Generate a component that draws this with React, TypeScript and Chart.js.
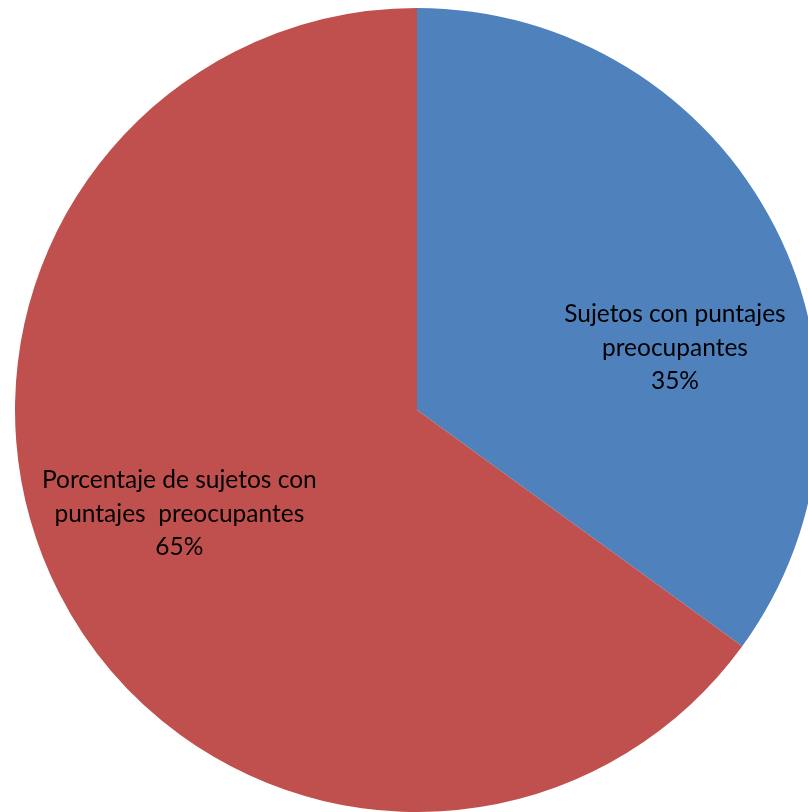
import React, { useEffect, useRef } from "react";
import { Chart, registerables } from "chart.js";

Chart.register(...registerables);

const categories = ["Sujetos con puntajes preocupantes", "Porcentaje de sujetos con puntajes  preocupantes"];
const labelLines = [
  ["Sujetos con puntajes", "preocupantes"],
  ["Porcentaje de sujetos con", "puntajes  preocupantes"],
];
const values = [35, 65];
const colors = ["#4F81BD", "#C0504D"];

const labelPlugin = {
  id: "sliceLabels",
  afterDatasetsDraw(chart: any) {
    const ctx = chart.ctx;
    const meta = chart.getDatasetMeta(0);
    const total = values.reduce((a, b) => a + b, 0);
    const anchors = [
      { dAngle: 0.235, frac: 0.66 },
      { dAngle: 0.06, frac: 0.645 },
    ];
    ctx.save();
    ctx.font = '24.5px Lato, "Open Sans", sans-serif';
    ctx.fillStyle = "#000";
    ctx.textAlign = "center";
    ctx.textBaseline = "middle";
    meta.data.forEach((arc: any, i: number) => {
      const p = arc.getProps(["x", "y", "startAngle", "endAngle", "outerRadius"], true);
      const mid = (p.startAngle + p.endAngle) / 2 + anchors[i].dAngle;
      const r = p.outerRadius * anchors[i].frac;
      const cx = p.x + Math.cos(mid) * r;
      const cy = p.y + Math.sin(mid) * r;
      const lines = [...labelLines[i], Math.round((values[i] / total) * 100) + "%"];
      const lh = 33.5;
      lines.forEach((t, k) => {
        ctx.fillText(t, cx, cy + (k - (lines.length - 1) / 2) * lh);
      });
    });
    ctx.restore();
  },
};

export default function App() {
  const ref = useRef<HTMLCanvasElement | null>(null);
  useEffect(() => {
    if (!ref.current) return;
    const chart = new Chart(ref.current, {
      type: "pie",
      data: {
        labels: categories,
        datasets: [
          {
            data: values,
            backgroundColor: colors,
            borderWidth: 0,
          },
        ],
      },
      options: {
        animation: false,
        responsive: false,
        layout: { padding: 8 },
        plugins: {
          legend: { display: false },
          tooltip: { enabled: false },
        },
      },
      plugins: [labelPlugin],
    });
    return () => chart.destroy();
  }, []);
  return (
    <div
      style={{
        position: "fixed",
        left: 0,
        top: 0,
        width: 808,
        height: 812,
        overflow: "hidden",
        background: "#fff",
      }}
    >
      <canvas ref={ref} width={834} height={820} style={{ width: 834, height: 820, display: "block" }} />
    </div>
  );
}
